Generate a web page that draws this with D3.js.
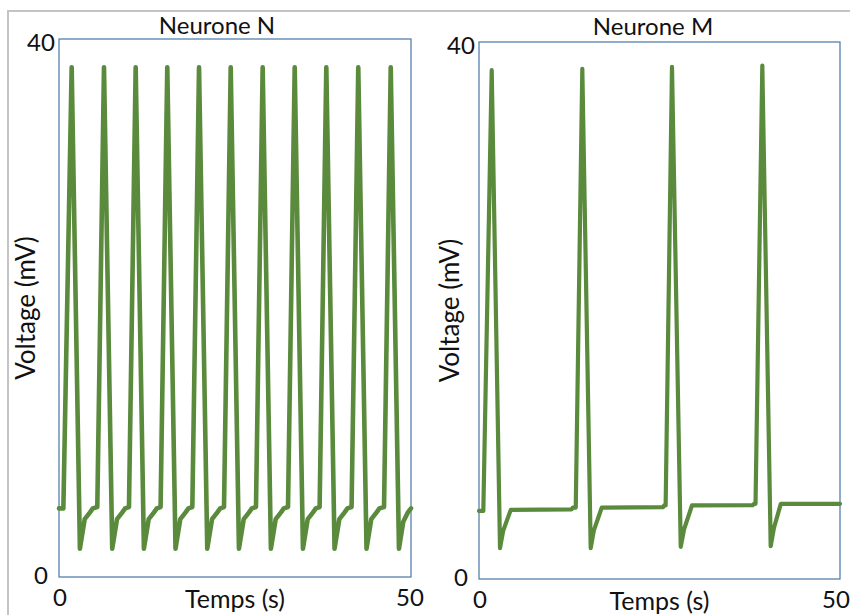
<!DOCTYPE html>
<html>
<head>
<meta charset="utf-8">
<script src="https://cdn.jsdelivr.net/npm/d3@7"></script>
<style>
  body { margin: 0; background: #fff; }
  svg { display: block; }
  text { font-family: Lato, "Open Sans", sans-serif; fill: #111; }
</style>
</head>
<body>
<div id="chart"></div>
<script>
// Two action potential traces (time in s, voltage in mV)

var titles = ["Neurone N", "Neurone M"];
var xLabel = "Temps (s)";
var yLabel = "Voltage (mV)";
var xTicks = [0, 50];
var yTicks = [0, 40];

// Neurone N : fast regular firing
var timeN = [0, 0.62, 1.80, 2.97, 3.65, 4.40, 4.80, 5.44,
  6.39, 7.56, 8.24, 8.99, 9.39, 9.94,
  10.89, 12.06, 12.74, 13.49, 13.89, 14.43,
  15.38, 16.55, 17.23, 17.98, 18.38, 18.94,
  19.89, 21.06, 21.74, 22.49, 22.89, 23.44,
  24.39, 25.56, 26.24, 26.99, 27.39, 27.98,
  28.93, 30.10, 30.78, 31.53, 31.93, 32.53,
  33.48, 34.65, 35.33, 36.08, 36.48, 37.02,
  37.97, 39.14, 39.82, 40.57, 40.97, 41.56,
  42.51, 43.68, 44.36, 45.11, 45.51, 46.17,
  47.12, 48.29, 48.90, 49.55, 50.00];
var voltN = [5.1, 5.1, 37.9, 2.1, 4.3, 4.8, 5.1, 5.2,
  37.9, 2.1, 4.3, 4.8, 5.1, 5.2,
  37.9, 2.1, 4.3, 4.8, 5.1, 5.2,
  37.9, 2.1, 4.3, 4.8, 5.1, 5.2,
  37.9, 2.1, 4.3, 4.8, 5.1, 5.2,
  37.9, 2.1, 4.3, 4.8, 5.1, 5.2,
  37.9, 2.1, 4.3, 4.8, 5.1, 5.2,
  37.9, 2.1, 4.3, 4.8, 5.1, 5.2,
  37.9, 2.1, 4.3, 4.8, 5.1, 5.2,
  37.9, 2.1, 4.3, 4.8, 5.1, 5.2,
  37.9, 2.1, 4.1, 4.8, 5.1];

// Neurone M : slow firing with long plateaus
var timeM = [0, 0.60, 1.76, 2.91, 3.35, 4.40, 12.80, 13.00, 13.40,
  14.31, 15.47, 15.90, 17.00, 25.50, 25.65, 25.85,
  26.73, 27.94, 28.40, 29.50, 37.90, 38.10, 38.30,
  39.24, 40.40, 40.85, 41.80, 50.00];
var voltM = [5.07, 5.07, 37.9, 2.3, 3.6, 5.15, 5.18, 5.32, 5.32,
  38.0, 2.3, 3.6, 5.32, 5.35, 5.48, 5.48,
  38.15, 2.4, 3.7, 5.48, 5.5, 5.6, 5.6,
  38.25, 2.45, 3.8, 5.6, 5.6];

var width = 850, height = 615;

var svg = d3.select("#chart").append("svg")
  .attr("width", width)
  .attr("height", height);

// light grey frame around the whole figure
svg.append("path")
  .attr("d", "M8,615 V11 H850")
  .attr("fill", "none")
  .attr("stroke", "#c4c4c4")
  .attr("stroke-width", 2);

var panels = [
  { time: timeN, volt: voltN, left: 59, right: 411, top: 39, bottom: 577,
    titleX: 217, titleY: 34, yLabX: 35, xLabY: 608, lw: 4.6, endShift: -1 },
  { time: timeM, volt: voltM, left: 479, right: 840, top: 42, bottom: 579,
    titleX: 653, titleY: 35, yLabX: 459, xLabY: 610, lw: 4.2, endShift: -4 }
];

panels.forEach(function(p, k) {
  var x = d3.scaleLinear().domain([0, 50]).range([p.left, p.right]);
  var y = d3.scaleLinear().domain([0, 40]).range([p.bottom, p.top]);
  var g = svg.append("g");

  // plot area border
  g.append("rect")
    .attr("x", x(0))
    .attr("y", y(40))
    .attr("width", x(50) - x(0))
    .attr("height", y(0) - y(40))
    .attr("fill", "none")
    .attr("stroke", "#4776a6")
    .attr("stroke-width", 1.2);

  var pts = p.time.map(function(t, i) { return [t, p.volt[i]]; });
  var line = d3.line()
    .x(function(d) { return x(d[0]); })
    .y(function(d) { return y(d[1]); });

  g.append("path")
    .datum(pts)
    .attr("d", line)
    .attr("fill", "none")
    .attr("stroke", "#5a8a3c")
    .attr("stroke-width", p.lw)
    .attr("stroke-linejoin", "round")
    .attr("stroke-linecap", "round");

  // y tick labels
  g.selectAll(".ytick")
    .data(yTicks)
    .enter().append("text")
    .attr("class", "ytick")
    .attr("x", x(0) - 18)
    .attr("y", function(d) { return y(d) + (d === 0 ? -1 : 3.5); })
    .attr("dy", "0.35em")
    .attr("text-anchor", "middle")
    .attr("font-size", "24px")
    .text(function(d) { return d; });

  // x tick labels
  g.selectAll(".xtick")
    .data(xTicks)
    .enter().append("text")
    .attr("class", "xtick")
    .attr("x", function(d) { return d === 0 ? x(d) + 1 : x(d) + p.endShift; })
    .attr("y", y(0) + 21)
    .attr("dy", "0.35em")
    .attr("text-anchor", "middle")
    .attr("font-size", "24px")
    .text(function(d) { return d; });

  // titles
  g.append("text")
    .attr("x", p.titleX)
    .attr("y", p.titleY)
    .attr("text-anchor", "middle")
    .attr("font-size", "24px")
    .text(titles[k]);

  g.append("text")
    .attr("x", (x(0) + x(50)) / 2)
    .attr("y", p.xLabY)
    .attr("text-anchor", "middle")
    .attr("font-size", "25px")
    .text(xLabel);

  g.append("text")
    .attr("transform", "translate(" + p.yLabX + "," + ((y(0) + y(40)) / 2) + ") rotate(-90)")
    .attr("text-anchor", "middle")
    .attr("font-size", "26px")
    .text(yLabel);
});
</script>
</body>
</html>
